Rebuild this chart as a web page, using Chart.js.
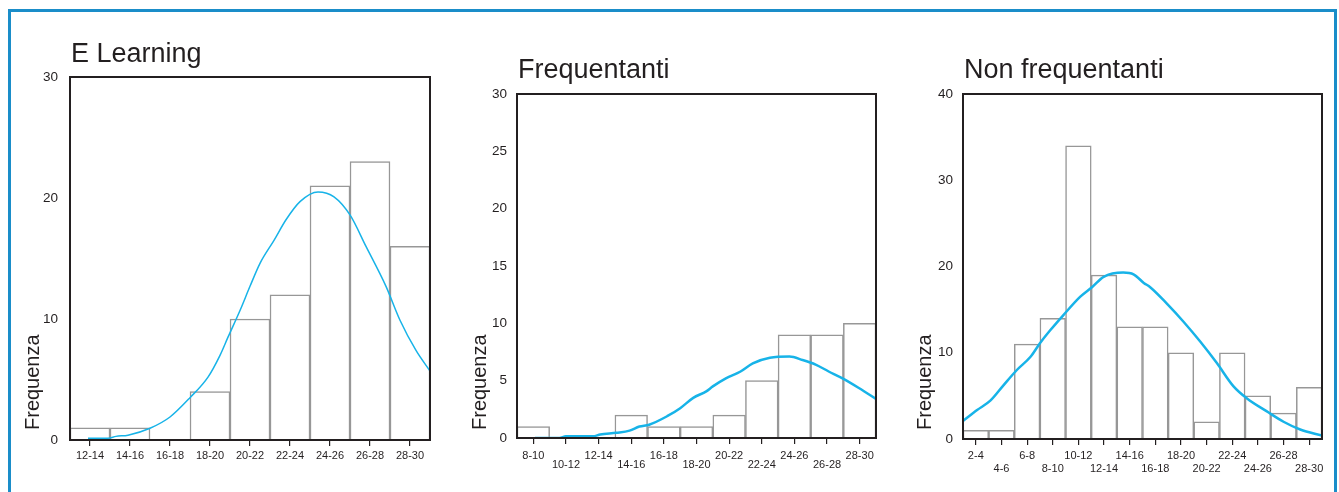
<!DOCTYPE html>
<html>
<head>
<meta charset="utf-8">
<script src="https://cdn.jsdelivr.net/npm/chart.js@4.4.1/dist/chart.umd.min.js"></script>
<style>
html,body{margin:0;padding:0;background:#fff;width:1339px;height:492px;overflow:hidden;}
#frame{position:absolute;left:8px;top:9px;width:1329px;height:600px;box-sizing:border-box;border:3px solid #1a8dc9;}
canvas{position:absolute;top:20px;}
</style>
</head>
<body>
<div id="frame"></div>
<canvas id="c1" width="425" height="460" style="left:15px"></canvas>
<canvas id="c2" width="420" height="460" style="left:465px"></canvas>
<canvas id="c3" width="425" height="460" style="left:905px"></canvas>
<script>
// ---------- DATA ----------
const titles = ['E Learning', 'Frequentanti', 'Non frequentanti'];
const yAxisLabel = 'Frequenza';

const eLearningBins = ['12-14','14-16','16-18','18-20','20-22','22-24','24-26','26-28','28-30'];
const eLearningFreq = [1, 1, 0, 4, 10, 12, 21, 23, 16];
const eLearningCurveX = [12.9,13.9,14.3,14.9,16,17,18,18.9,19.5,19.9,20.5,21,21.5,22.2,22.8,23.5,24.4,25.2,26,26.8,27.8,28.5,29.3,30];
const eLearningCurveY = [0.15,0.15,0.3,0.4,0.97,1.9,3.5,5.2,7.0,8.5,10.7,12.7,14.6,16.5,18.2,19.7,20.5,20.1,18.6,16.0,12.7,9.9,7.4,5.7];

const frequentantiBins = ['8-10','10-12','12-14','14-16','16-18','18-20','20-22','22-24','24-26','26-28','28-30'];
const frequentantiFreq = [1, 0, 0, 2, 1, 1, 2, 5, 9, 9, 10];
const frequentantiCurveX = [9.1,10.6,11.0,12.65,13.1,14.1,14.9,15.5,16.1,17.2,18.0,18.8,19.6,20.0,20.8,21.7,22.45,23.5,24.7,25.5,26.3,27.1,27.95,28.95,30];
const frequentantiCurveY = [0,0,0.15,0.15,0.3,0.45,0.64,1.0,1.16,1.9,2.6,3.5,4.07,4.5,5.2,5.8,6.5,7.0,7.1,6.8,6.4,5.8,5.2,4.36,3.4];

const nonFreqBins = ['2-4','4-6','6-8','8-10','10-12','12-14','14-16','16-18','18-20','20-22','22-24','24-26','26-28','28-30'];
const nonFreqFreq = [1, 1, 11, 14, 34, 19, 13, 13, 10, 2, 10, 5, 3, 6];
const nonFreqCurveX = [2,3.1,4.13,5.17,6.2,7.25,8.0,8.8,9.85,11.15,12.06,12.97,14.5,15.3,16.1,16.6,17.9,19.2,20.5,21.8,23.1,24.15,25.7,27.0,28.3,30];
const nonFreqCurveY = [2.1,3.36,4.44,6.25,8.0,9.5,11.1,12.6,14.4,16.5,17.6,18.8,19.3,19.1,18.1,17.6,15.7,13.6,11.3,8.8,6.1,4.7,3.2,2.0,1.1,0.4];

const yTicks1 = [0, 10, 20, 30];
const yTicks2 = [0, 5, 10, 15, 20, 25, 30];
const yTicks3 = [0, 10, 20, 30, 40];

// ---------- STYLE ----------
const FONT = '"Liberation Sans", Arial, Helvetica, sans-serif';
const TEXT = '#231f20';
const CURVE = '#17b3e8';
const BAR_EDGE = '#979797';
Chart.defaults.font.family = FONT;
Chart.defaults.color = TEXT;

const framePlugin = {
  id: 'frameBox',
  afterDatasetsDraw(chart) {
    const a = chart.chartArea, ctx = chart.ctx;
    ctx.save();
    ctx.strokeStyle = TEXT;
    ctx.lineWidth = 2;
    ctx.strokeRect(a.left, a.top, a.right - a.left, a.bottom - a.top);
    ctx.restore();
  }
};
const textPlugin = {
  id: 'panelText',
  afterDraw(chart, args, opts) {
    const ctx = chart.ctx;
    ctx.save();
    ctx.fillStyle = TEXT;
    ctx.font = '27px ' + FONT;
    ctx.textAlign = 'left';
    ctx.textBaseline = 'alphabetic';
    ctx.fillText(opts.title, chart.chartArea.left + 1, opts.titleY);
    ctx.translate(opts.yLabelX, opts.yLabelBottom);
    ctx.rotate(-Math.PI / 2);
    ctx.font = '20px ' + FONT;
    ctx.textBaseline = 'middle';
    ctx.fillText(yAxisLabel, 0, 0);
    ctx.restore();
  }
};

function makeChart(id, c) {
  const labelsCb = function (value, index) {
    const lab = this.getLabelForValue(value);
    if (!c.stagger) return lab;
    return index % 2 === 0 ? [lab, ''] : ['', lab];
  };
  return new Chart(document.getElementById(id), {
    type: 'bar',
    data: {
      labels: c.bins,
      datasets: [
        {
          type: 'line',
          data: c.curveX.map((x, i) => ({ x: x, y: c.curveY[i] })),
          xAxisID: 'xl', yAxisID: 'y',
          borderColor: CURVE, borderWidth: c.curveWidth,
          pointRadius: 0, tension: 0.4, cubicInterpolationMode: 'monotone',
          fill: false, order: 1, grouped: false
        },
        {
          type: 'bar',
          data: c.freq,
          xAxisID: 'x', yAxisID: 'y',
          backgroundColor: '#ffffff', borderColor: BAR_EDGE, borderWidth: 1.5,
          barPercentage: 1, categoryPercentage: 1, grouped: false, order: 2
        }
      ]
    },
    options: {
      responsive: false,
      animation: false,
      events: [],
      layout: { padding: { top: c.padTop, right: c.padRight, left: 0, bottom: 0 } },
      plugins: {
        legend: { display: false },
        tooltip: { enabled: false },
        panelText: { title: c.title, titleY: c.titleY, yLabelX: c.yLabelX, yLabelBottom: c.yLabelBottom }
      },
      scales: {
        x: {
          type: 'category', offset: true, stacked: false,
          grid: { display: true, drawOnChartArea: false, drawTicks: true, tickLength: 6, color: TEXT, lineWidth: 1.2, offset: false },
          border: { display: false },
          ticks: { autoSkip: false, maxRotation: 0, minRotation: 0, color: TEXT, padding: c.labelPad,
                   font: { family: FONT, size: 11, lineHeight: c.labelLineHeight }, callback: labelsCb },
          afterFit: s => { s.height = c.xAxisH; }
        },
        xl: { type: 'linear', display: false, offset: false, bounds: 'ticks', min: c.xMin, max: c.xMax,
              grid: { offset: false } },
        y: {
          min: 0, max: c.yTicks[c.yTicks.length - 1],
          afterBuildTicks: s => { s.ticks = c.yTicks.map(v => ({ value: v })); },
          grid: { display: false, drawTicks: false, tickLength: 0 },
          border: { display: false },
          ticks: { color: TEXT, padding: c.yPad, font: { family: FONT, size: 13.5 } },
          afterFit: s => { s.width = c.yAxisW; }
        }
      }
    },
    plugins: [framePlugin, textPlugin]
  });
}

makeChart('c1', {
  title: titles[0], bins: eLearningBins, freq: eLearningFreq,
  curveX: eLearningCurveX, curveY: eLearningCurveY, curveWidth: 1.5,
  xMin: 12, xMax: 30, yTicks: yTicks1, stagger: false, labelLineHeight: 1.2, labelPad: 3, yPad: 12,
  padTop: 57, padRight: 10, yAxisW: 55, xAxisH: 40,
  titleY: 42, yLabelX: 18, yLabelBottom: 410
});
makeChart('c2', {
  title: titles[1], bins: frequentantiBins, freq: frequentantiFreq,
  curveX: frequentantiCurveX, curveY: frequentantiCurveY, curveWidth: 2.5,
  xMin: 8, xMax: 30, yTicks: yTicks2, stagger: true, labelLineHeight: 0.76, labelPad: 8, yPad: 10,
  padTop: 74, padRight: 9, yAxisW: 52, xAxisH: 42,
  titleY: 58, yLabelX: 15, yLabelBottom: 410
});
makeChart('c3', {
  title: titles[2], bins: nonFreqBins, freq: nonFreqFreq,
  curveX: nonFreqCurveX, curveY: nonFreqCurveY, curveWidth: 2.5,
  xMin: 2, xMax: 30, yTicks: yTicks3, stagger: true, labelLineHeight: 1.12, labelPad: 5, yPad: 10,
  padTop: 74, padRight: 8, yAxisW: 58, xAxisH: 41,
  titleY: 58, yLabelX: 20.5, yLabelBottom: 410
});
</script>
</body>
</html>
